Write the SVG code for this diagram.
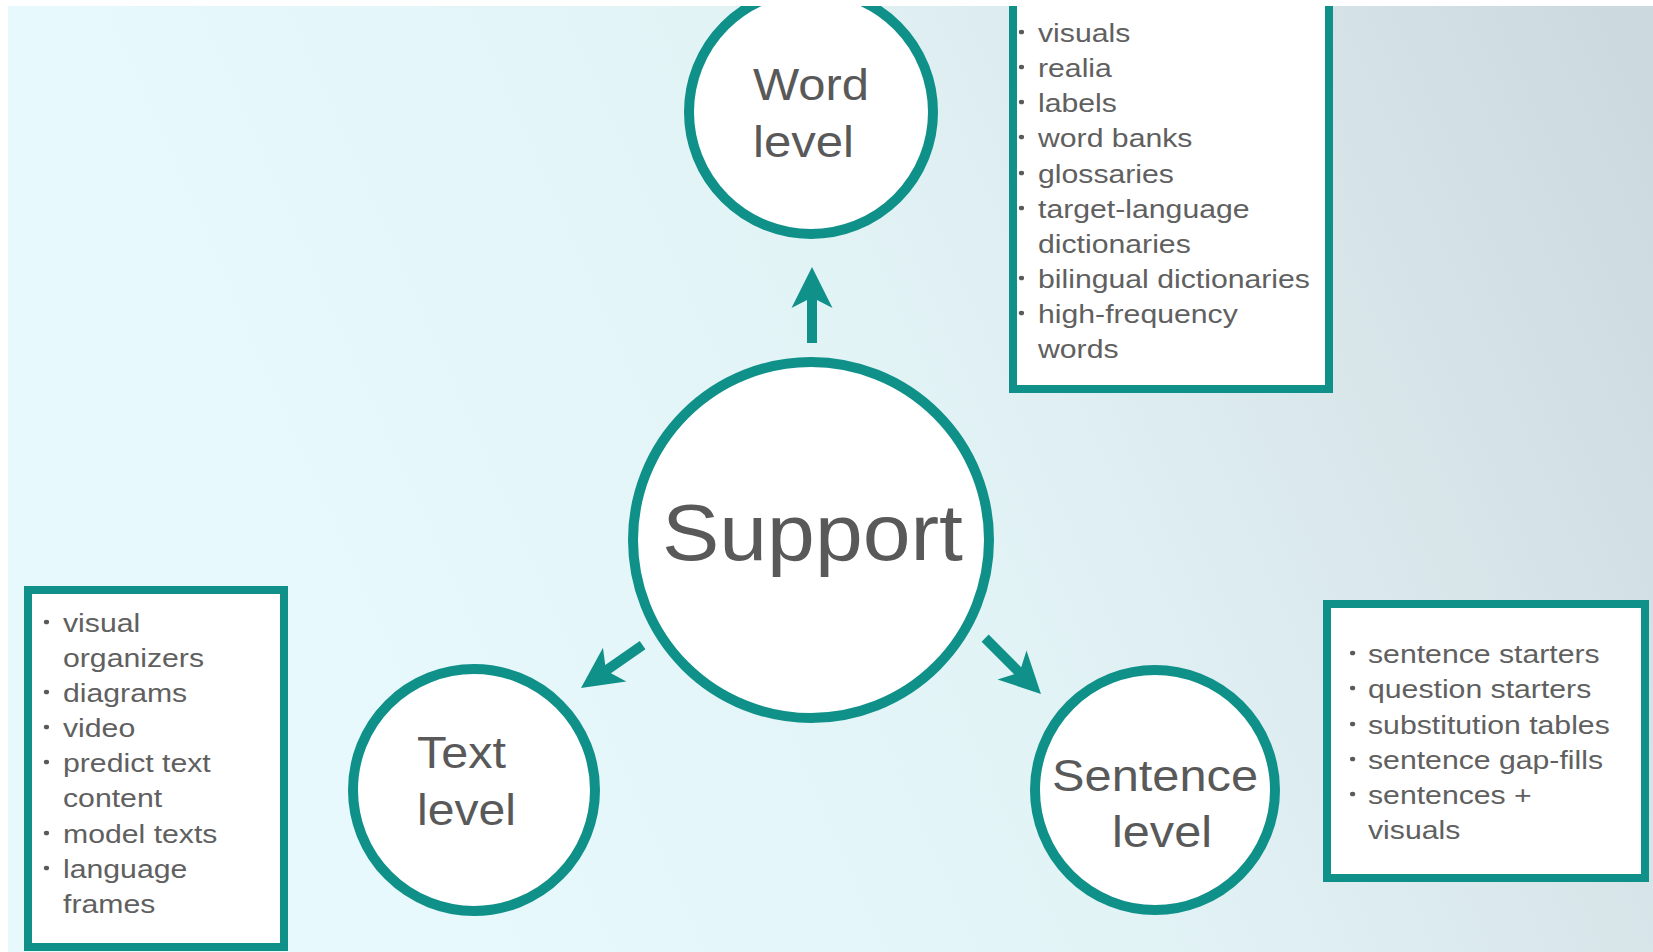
<svg xmlns="http://www.w3.org/2000/svg" width="1653" height="952" viewBox="0 0 1653 952">
  <defs>
    <linearGradient id="bg" gradientUnits="userSpaceOnUse" x1="300" y1="700" x2="1653" y2="100">
      <stop offset="0" stop-color="#e7f9fc"/>
      <stop offset="0.45" stop-color="#e2f3f6"/>
      <stop offset="0.75" stop-color="#d8e6ea"/>
      <stop offset="1" stop-color="#ccd9df"/>
    </linearGradient>
    <clipPath id="frame">
      <rect x="8" y="6" width="1645" height="946"/>
    </clipPath>
  </defs>
  <style>
    .ring { fill: #ffffff; stroke: #0f9189; stroke-width: 10; }
    .box { fill: #ffffff; stroke: #0f9189; stroke-width: 8; }
    .arrow { fill: #0f9189; }
    .label { font-family: "Liberation Sans", Arial, sans-serif; fill: #595959; }
    .big { font-size: 80px; }
    .mid { font-size: 44px; }
    .list { font-family: "Liberation Sans", Arial, sans-serif; font-size: 26.5px; fill: #606060; }
    .dot { fill: #5a5a5a; }
  </style>

  <rect width="1653" height="952" fill="#ffffff"/>
  <g clip-path="url(#frame)">
    <rect x="8" y="6" width="1645" height="946" fill="url(#bg)"/>

    <!-- arrows: drawn pointing up with the tip at the origin, then placed -->
    <g id="connectors">
      <path class="arrow" transform="translate(812 267)" d="M0,0 L20.5,41 L5,33 L5,76 L-5,76 L-5,33 L-20.5,41 Z"/>
      <path class="arrow" transform="translate(581 688) rotate(-124.8)" d="M0,0 L20.5,41 L5,33 L5,75 L-5,75 L-5,33 L-20.5,41 Z"/>
      <path class="arrow" transform="translate(1041 694) rotate(135)" d="M0,0 L20.5,41 L5,33 L5,79 L-5,79 L-5,33 L-20.5,41 Z"/>
    </g>

    <g id="support">
      <circle class="ring" cx="811" cy="540" r="178"/>
      <text class="label big" x="662" y="560" textLength="301" lengthAdjust="spacingAndGlyphs">Support</text>
    </g>

    <g id="word-level">
      <circle class="ring" cx="811" cy="112" r="122"/>
      <text class="label mid" x="753" y="100" textLength="116" lengthAdjust="spacingAndGlyphs">Word</text>
      <text class="label mid" x="753" y="157" textLength="101" lengthAdjust="spacingAndGlyphs">level</text>
    </g>

    <g id="text-level">
      <circle class="ring" cx="474" cy="790" r="121"/>
      <text class="label mid" x="417" y="768" textLength="89" lengthAdjust="spacingAndGlyphs">Text</text>
      <text class="label mid" x="417" y="825" textLength="99" lengthAdjust="spacingAndGlyphs">level</text>
    </g>

    <g id="sentence-level">
      <circle class="ring" cx="1155" cy="790" r="120"/>
      <text class="label mid" x="1052" y="791" textLength="206" lengthAdjust="spacingAndGlyphs">Sentence</text>
      <text class="label mid" x="1112" y="847" textLength="100" lengthAdjust="spacingAndGlyphs">level</text>
    </g>

    <g id="word-supports">
      <rect class="box" x="1013" y="-20" width="316" height="409"/>
      <g transform="translate(1038 0) scale(1.14 1)">
        <circle class="dot" cx="-14.5" cy="32" r="2.3"/>
        <circle class="dot" cx="-14.5" cy="67" r="2.3"/>
        <circle class="dot" cx="-14.5" cy="102" r="2.3"/>
        <circle class="dot" cx="-14.5" cy="137" r="2.3"/>
        <circle class="dot" cx="-14.5" cy="173" r="2.3"/>
        <circle class="dot" cx="-14.5" cy="208" r="2.3"/>
        <circle class="dot" cx="-14.5" cy="278" r="2.3"/>
        <circle class="dot" cx="-14.5" cy="313" r="2.3"/>
        <text class="list" x="0" y="42">visuals</text>
        <text class="list" x="0" y="77">realia</text>
        <text class="list" x="0" y="112">labels</text>
        <text class="list" x="0" y="147">word banks</text>
        <text class="list" x="0" y="183">glossaries</text>
        <text class="list" x="0" y="218">target-language</text>
        <text class="list" x="0" y="253">dictionaries</text>
        <text class="list" x="0" y="288">bilingual dictionaries</text>
        <text class="list" x="0" y="323">high-frequency</text>
        <text class="list" x="0" y="358">words</text>
      </g>
    </g>

    <g id="text-supports">
      <rect class="box" x="28" y="590" width="256" height="357"/>
      <g transform="translate(63 0) scale(1.14 1)">
        <circle class="dot" cx="-14.5" cy="622" r="2.3"/>
        <circle class="dot" cx="-14.5" cy="692" r="2.3"/>
        <circle class="dot" cx="-14.5" cy="727" r="2.3"/>
        <circle class="dot" cx="-14.5" cy="762" r="2.3"/>
        <circle class="dot" cx="-14.5" cy="833" r="2.3"/>
        <circle class="dot" cx="-14.5" cy="868" r="2.3"/>
        <text class="list" x="0" y="632">visual</text>
        <text class="list" x="0" y="667">organizers</text>
        <text class="list" x="0" y="702">diagrams</text>
        <text class="list" x="0" y="737">video</text>
        <text class="list" x="0" y="772">predict text</text>
        <text class="list" x="0" y="807">content</text>
        <text class="list" x="0" y="843">model texts</text>
        <text class="list" x="0" y="878">language</text>
        <text class="list" x="0" y="913">frames</text>
      </g>
    </g>

    <g id="sentence-supports">
      <rect class="box" x="1327" y="604" width="318" height="274"/>
      <g transform="translate(1368 0) scale(1.14 1)">
        <circle class="dot" cx="-13.5" cy="653" r="2.3"/>
        <circle class="dot" cx="-13.5" cy="688" r="2.3"/>
        <circle class="dot" cx="-13.5" cy="724" r="2.3"/>
        <circle class="dot" cx="-13.5" cy="759" r="2.3"/>
        <circle class="dot" cx="-13.5" cy="794" r="2.3"/>
        <text class="list" x="0" y="663">sentence starters</text>
        <text class="list" x="0" y="698">question starters</text>
        <text class="list" x="0" y="734">substitution tables</text>
        <text class="list" x="0" y="769">sentence gap-fills</text>
        <text class="list" x="0" y="804">sentences +</text>
        <text class="list" x="0" y="839">visuals</text>
      </g>
    </g>
  </g>
</svg>
